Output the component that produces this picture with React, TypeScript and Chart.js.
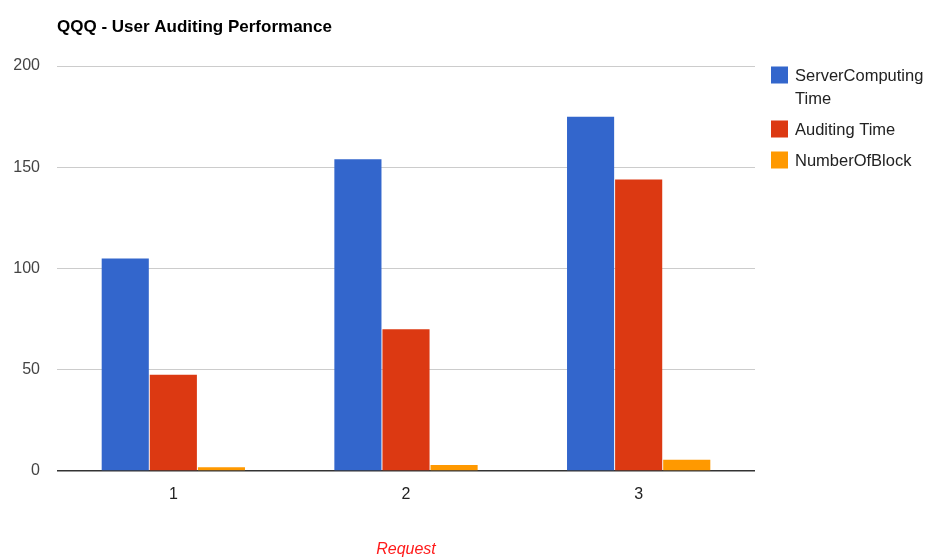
import React, { useEffect, useRef } from "react";
import { Chart, registerables } from "chart.js";

Chart.register(...registerables);

const categories = ["1", "2", "3"];
const serverComputingTime = [105, 154, 175];
const auditingTime = [47.5, 70, 144];
const numberOfBlock = [1.8, 3, 5.5];
const seriesNames = [["ServerComputing", "Time"], ["Auditing Time"], ["NumberOfBlock"]];
const seriesColors = ["#3366cc", "#dc3912", "#ff9900"];
const yTicks = [0, 50, 100, 150, 200];
const chartTitle = "QQQ - User Auditing Performance";
const xTitle = "Request";

const FONT = "Arial, 'Liberation Sans', sans-serif";

const overlayPlugin = {
  id: "overlay",
  afterDraw(chart: any) {
    const ctx = chart.ctx;
    const area = chart.chartArea;
    ctx.save();
    ctx.fillStyle = "#000";
    ctx.font = `bold 17px ${FONT}`;
    ctx.textBaseline = "alphabetic";
    ctx.textAlign = "left";
    ctx.fillText(chartTitle, area.left, 32);

    const lx = 771;
    let cy = 75;
    chart.data.datasets.forEach((ds: any, i: number) => {
      ctx.fillStyle = ds.backgroundColor;
      ctx.fillRect(lx, cy - 8.5, 17, 17);
      ctx.fillStyle = "#222";
      ctx.font = `16.5px ${FONT}`;
      ctx.textBaseline = "middle";
      const lines = seriesNames[i];
      lines.forEach((t: string, j: number) => {
        ctx.fillText(t, lx + 24, cy + 1 + j * 23);
      });
      cy += 23 * (lines.length - 1) + 31;
    });
    ctx.restore();
  },
};

export default function App() {
  const ref = useRef<HTMLCanvasElement | null>(null);
  useEffect(() => {
    document.body.style.margin = "0";
    const canvas = ref.current!;
    const chart = new Chart(canvas, {
      type: "bar",
      data: {
        labels: categories,
        datasets: [
          { label: seriesNames[0].join(" "), data: serverComputingTime, backgroundColor: seriesColors[0] },
          { label: seriesNames[1].join(" "), data: auditingTime, backgroundColor: seriesColors[1] },
          { label: seriesNames[2].join(" "), data: numberOfBlock, backgroundColor: seriesColors[2] },
        ],
      },
      options: {
        responsive: false,
        animation: false,
        layout: { padding: { top: 66, right: 928 - 755, bottom: 0, left: 0 } },
        datasets: { bar: { barPercentage: 0.98, categoryPercentage: 0.62 } },
        plugins: {
          legend: { display: false },
          title: { display: false },
          tooltip: { enabled: false },
        },
        scales: {
          x: {
            grid: { display: false },
            border: { display: false },
            ticks: { color: "#222", font: { family: FONT, size: 16 }, padding: 6 },
            title: {
              display: true,
              text: xTitle,
              color: "#ff1a1a",
              font: { family: FONT, size: 16, style: "italic" },
              padding: { top: 0, bottom: 0 },
            },
            afterFit(scale: any) {
              scale.height = 559 - 471;
            },
          },
          y: {
            min: 0,
            max: 200,
            afterBuildTicks(scale: any) {
              scale.ticks = yTicks.map((v) => ({ value: v }));
            },
            grid: {
              color: (c: any) => (c.tick && c.tick.value === 0 ? "#333" : "#cccccc"),
              lineWidth: (c: any) => (c.tick && c.tick.value === 0 ? 1.5 : 1),
              drawTicks: false,
            },
            border: { display: false },
            ticks: { color: "#444", font: { family: FONT, size: 16 }, padding: 17 },
            afterFit(scale: any) {
              scale.width = 57;
            },
          },
        },
      },
      plugins: [overlayPlugin],
    });
    return () => chart.destroy();
  }, []);
  return <canvas ref={ref} width={928} height={559} style={{ display: "block" }} />;
}
